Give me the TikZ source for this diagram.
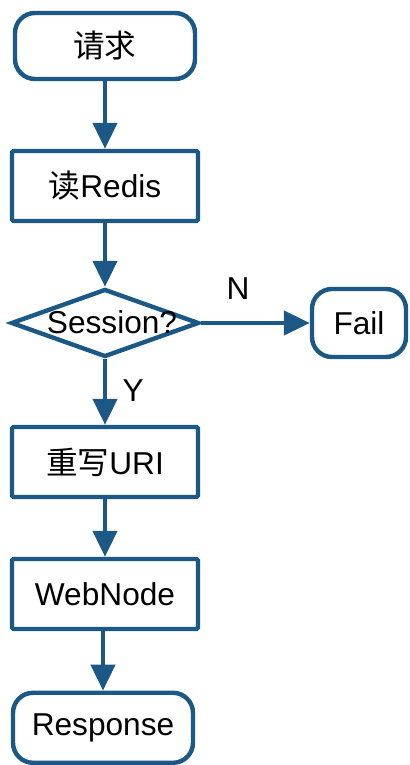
\documentclass[tikz,border=0pt]{standalone}
\usepackage{fontspec}
\setmainfont{Liberation Sans}
\newfontfamily\cjk{Noto Sans CJK SC}
\usetikzlibrary{arrows.meta, shapes.geometric}
\definecolor{FlowBlue}{HTML}{1B5886}
\tikzset{
  endbox/.style={draw=FlowBlue, line width=0.11cm, fill=white, rounded corners=0.5cm,
                 align=center, inner sep=0pt, font=\fontsize{22.5}{25}\selectfont},
  stepbox/.style={draw=FlowBlue, line width=0.11cm, fill=white, rounded corners=1pt,
                  minimum width=4.65cm, minimum height=1.75cm, align=center,
                  inner sep=0pt, font=\fontsize{22.5}{25}\selectfont},
  askbox/.style={diamond, draw=FlowBlue, line width=0.11cm, fill=white,
                 inner sep=0pt, minimum width=4.7cm, minimum height=1.7cm},
  flowtext/.style={font=\fontsize{22.5}{25}\selectfont},
  flowarrow/.style={-{Triangle[length=0.65cm, width=0.6cm]}, line width=0.11cm,
                    draw=FlowBlue},
}
\begin{document}
\begin{tikzpicture}
  \useasboundingbox (0,0) rectangle (10.25,19.125);

  \node[endbox, minimum width=4.5cm, minimum height=1.65cm] (req) at (2.625, 17.975)
    {{\cjk 请求}};
  \node[stepbox] (redis) at (2.625, 14.475) {{\cjk 读}Redis};

  % diamond drawn empty, its text put on top (it overflows the shape)
  \node[askbox] (sess) at (2.625, 11.05) {};
  \node[flowtext] (sesstext) at (2.80, 11.07) {Session?};

  \node[endbox, minimum width=2.35cm, minimum height=1.7cm] (fail) at (8.975, 11.05)
    {Fail};
  \node[stepbox] (uri) at (2.625, 7.575) {{\cjk 重写}URI};
  \node[stepbox] (web) at (2.625, 4.275) {WebNode};
  \node[endbox, minimum width=4.5cm, minimum height=1.75cm] (resp) at (2.575, 0.93)
    {Response};

  \draw[flowarrow] (req) -- (redis);
  \draw[flowarrow] (redis) -- (sess);
  \draw[flowarrow] (sess) -- (fail);
  \draw[flowarrow] (sess) -- (uri);
  \draw[flowarrow] (uri) -- (web);
  \draw[flowarrow] (web.south -| resp) -- (resp);

  \node[flowtext] (nlab) at (5.95, 11.90) {N};
  \node[flowtext] (ylab) at (3.33, 9.37) {Y};
\end{tikzpicture}
\end{document}
